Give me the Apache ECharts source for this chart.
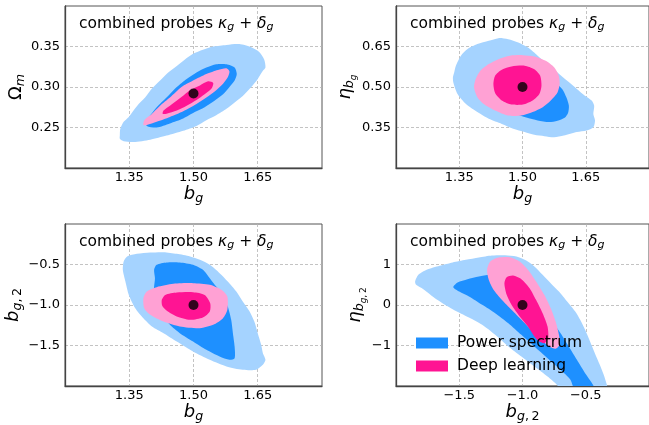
<!DOCTYPE html>
<html><head><meta charset="utf-8">
<script src="https://cdn.jsdelivr.net/npm/echarts@6/dist/echarts.min.js"></script>
<style>html,body{margin:0;padding:0;background:#fff}#c{width:649px;height:425px}</style>
</head><body><div id="c"></div>
<script>
// ---------------- data ----------------
const BG_TICKS = [1.35, 1.50, 1.65];
const OMEGA_TICKS = [0.25, 0.30, 0.35];
const ETA_BG_TICKS = [0.35, 0.50, 0.65];
const BG2_TICKS = [-1.5, -1.0, -0.5];
const ETA_BG2_TICKS = [-1, 0, 1];
const LEGEND_NAMES = ['Power spectrum', 'Deep learning'];
const TITLE_TEXT = 'combined probes {i|κ}{t|g} + {i|δ}{t|g}';

// panel 1: b_g vs Omega_m
const P1_FID = [1.5, 0.292];
const P1_PS_OUT = [[1.328,0.240],[1.329,0.248],[1.337,0.257],[1.349,0.263],[1.360,0.271],[1.372,0.279],[1.387,0.287],[1.403,0.298],[1.422,0.308],[1.441,0.318],[1.461,0.326],[1.480,0.334],[1.499,0.341],[1.522,0.346],[1.546,0.350],[1.577,0.352],[1.607,0.353],[1.635,0.349],[1.654,0.343],[1.665,0.334],[1.668,0.324],[1.662,0.320],[1.650,0.310],[1.635,0.300],[1.615,0.289],[1.596,0.281],[1.577,0.273],[1.553,0.265],[1.530,0.259],[1.507,0.252],[1.476,0.246],[1.437,0.240],[1.399,0.235],[1.360,0.232],[1.337,0.233],[1.328,0.236]];
const P1_PS_IN = [[1.391,0.252],[1.387,0.257],[1.399,0.265],[1.414,0.275],[1.437,0.287],[1.461,0.300],[1.484,0.310],[1.507,0.318],[1.530,0.324],[1.553,0.328],[1.577,0.328],[1.596,0.324],[1.601,0.316],[1.596,0.308],[1.584,0.300],[1.569,0.291],[1.549,0.283],[1.526,0.275],[1.503,0.269],[1.476,0.261],[1.445,0.255],[1.414,0.250]];
const P1_DL_OUT = [[1.383,0.253],[1.385,0.259],[1.399,0.265],[1.422,0.277],[1.445,0.287],[1.472,0.300],[1.499,0.308],[1.530,0.316],[1.557,0.321],[1.577,0.323],[1.584,0.319],[1.580,0.312],[1.569,0.304],[1.553,0.296],[1.530,0.287],[1.507,0.279],[1.476,0.270],[1.445,0.263],[1.414,0.257],[1.391,0.253]];
const P1_DL_IN = [[1.428,0.267],[1.430,0.271],[1.445,0.277],[1.468,0.286],[1.492,0.296],[1.515,0.302],[1.534,0.307],[1.546,0.305],[1.542,0.298],[1.526,0.291],[1.507,0.284],[1.484,0.277],[1.461,0.271],[1.437,0.267]];

// panel 2: b_g vs eta_bg
const P2_FID = [1.5, 0.5];
const P2_PS_OUT = [[1.342,0.579],[1.354,0.616],[1.369,0.640],[1.393,0.659],[1.420,0.671],[1.443,0.681],[1.466,0.677],[1.490,0.665],[1.513,0.646],[1.536,0.616],[1.559,0.585],[1.583,0.554],[1.606,0.523],[1.629,0.493],[1.648,0.468],[1.664,0.450],[1.670,0.431],[1.668,0.400],[1.672,0.376],[1.668,0.351],[1.652,0.339],[1.629,0.333],[1.598,0.320],[1.575,0.314],[1.552,0.318],[1.528,0.323],[1.505,0.333],[1.478,0.345],[1.451,0.363],[1.420,0.382],[1.393,0.407],[1.366,0.437],[1.346,0.474],[1.336,0.517],[1.335,0.536],[1.338,0.554]];
const P2_PS_IN = [[1.459,0.416],[1.482,0.468],[1.528,0.505],[1.575,0.517],[1.594,0.493],[1.604,0.462],[1.610,0.431],[1.608,0.404],[1.600,0.386],[1.583,0.375],[1.563,0.370],[1.536,0.376],[1.509,0.387],[1.482,0.400]];
const P2_DL_OUT = [[1.385,0.499],[1.389,0.530],[1.400,0.560],[1.420,0.585],[1.443,0.603],[1.470,0.616],[1.501,0.618],[1.528,0.613],[1.555,0.597],[1.575,0.573],[1.586,0.542],[1.588,0.511],[1.583,0.480],[1.567,0.450],[1.548,0.425],[1.524,0.407],[1.497,0.394],[1.466,0.394],[1.435,0.413],[1.408,0.437],[1.393,0.462]];
const P2_DL_IN = [[1.431,0.511],[1.435,0.542],[1.451,0.564],[1.474,0.576],[1.505,0.579],[1.528,0.566],[1.542,0.542],[1.545,0.505],[1.540,0.474],[1.524,0.450],[1.501,0.435],[1.474,0.435],[1.451,0.450],[1.435,0.478]];

// panel 3: b_g vs b_g2
const P3_FID = [1.5, -1.0];
const P3_PS_OUT = [[1.337,-0.463],[1.345,-0.401],[1.368,-0.368],[1.399,-0.352],[1.430,-0.348],[1.461,-0.368],[1.492,-0.401],[1.515,-0.442],[1.538,-0.504],[1.561,-0.607],[1.580,-0.710],[1.600,-0.833],[1.615,-0.957],[1.631,-1.080],[1.642,-1.204],[1.650,-1.348],[1.658,-1.492],[1.662,-1.595],[1.668,-1.677],[1.662,-1.739],[1.646,-1.800],[1.615,-1.800],[1.577,-1.759],[1.538,-1.677],[1.499,-1.574],[1.461,-1.451],[1.430,-1.348],[1.403,-1.265],[1.383,-1.163],[1.364,-1.039],[1.349,-0.875],[1.341,-0.710],[1.335,-0.566]];
const P3_PS_IN = [[1.408,-0.566],[1.414,-0.504],[1.437,-0.475],[1.468,-0.475],[1.499,-0.504],[1.522,-0.566],[1.538,-0.669],[1.553,-0.772],[1.569,-0.875],[1.580,-1.019],[1.588,-1.183],[1.592,-1.348],[1.596,-1.512],[1.596,-1.656],[1.584,-1.677],[1.561,-1.636],[1.530,-1.554],[1.499,-1.451],[1.468,-1.348],[1.445,-1.245],[1.430,-1.142],[1.414,-1.039],[1.406,-0.916],[1.408,-0.772],[1.410,-0.669]];
const P3_DL_OUT = [[1.383,-0.916],[1.391,-0.833],[1.414,-0.780],[1.453,-0.739],[1.499,-0.730],[1.538,-0.751],[1.565,-0.813],[1.579,-0.895],[1.579,-1.060],[1.569,-1.163],[1.546,-1.245],[1.515,-1.286],[1.468,-1.265],[1.430,-1.204],[1.399,-1.121],[1.385,-1.039]];
const P3_DL_IN = [[1.426,-0.936],[1.434,-0.875],[1.461,-0.846],[1.499,-0.842],[1.526,-0.875],[1.539,-0.977],[1.538,-1.080],[1.522,-1.154],[1.492,-1.183],[1.461,-1.142],[1.437,-1.068],[1.427,-1.010]];

// panel 4: b_g2 vs eta_bg2
const P4_FID = [-1.0, 0.0];
const P4_PS_OUT = [[-1.849,0.580],[-1.823,0.745],[-1.758,0.868],[-1.655,0.967],[-1.552,1.049],[-1.448,1.115],[-1.345,1.173],[-1.242,1.222],[-1.138,1.230],[-1.048,1.198],[-0.970,1.099],[-0.906,0.951],[-0.841,0.745],[-0.777,0.539],[-0.712,0.333],[-0.647,0.087],[-0.583,-0.160],[-0.544,-0.366],[-0.505,-0.613],[-0.466,-0.901],[-0.428,-1.189],[-0.389,-1.477],[-0.358,-1.724],[-0.332,-1.979],[-0.322,-2.1],[-0.712,-2.1],[-0.725,-1.979],[-0.802,-1.765],[-0.906,-1.518],[-1.009,-1.272],[-1.112,-1.025],[-1.216,-0.737],[-1.319,-0.490],[-1.423,-0.309],[-1.552,-0.103],[-1.681,0.144],[-1.784,0.391],[-1.841,0.498]];
const P4_PS_IN = [[-1.547,0.440],[-1.513,0.556],[-1.435,0.638],[-1.345,0.704],[-1.255,0.745],[-1.138,0.663],[-0.906,0.128],[-0.777,-0.366],[-0.699,-0.695],[-0.634,-1.025],[-0.570,-1.354],[-0.505,-1.683],[-0.454,-1.913],[-0.428,-2.1],[-0.583,-2.1],[-0.621,-1.848],[-0.699,-1.601],[-0.802,-1.313],[-0.906,-1.025],[-1.009,-0.737],[-1.112,-0.449],[-1.216,-0.202],[-1.319,0.004],[-1.423,0.210],[-1.500,0.333]];
const P4_DL_OUT = [[-1.280,0.868],[-1.255,1.074],[-1.190,1.173],[-1.100,1.181],[-1.022,1.074],[-0.957,0.868],[-0.893,0.580],[-0.828,0.251],[-0.777,-0.078],[-0.738,-0.407],[-0.712,-0.737],[-0.707,-0.983],[-0.738,-1.082],[-0.789,-1.025],[-0.854,-0.860],[-0.932,-0.613],[-1.009,-0.366],[-1.087,-0.119],[-1.164,0.128],[-1.229,0.375],[-1.267,0.621]];
const P4_DL_IN = [[-1.143,0.539],[-1.125,0.687],[-1.074,0.728],[-1.009,0.638],[-0.944,0.416],[-0.893,0.128],[-0.841,-0.202],[-0.802,-0.531],[-0.797,-0.819],[-0.828,-0.942],[-0.867,-0.901],[-0.906,-0.778],[-0.957,-0.531],[-1.022,-0.284],[-1.087,0.004],[-1.125,0.251]];

// ---------------- styling ----------------
const FONT = 'DejaVu Sans';
const C_PS_OUT = '#a5d3ff', C_PS_IN = '#1e90ff';
const C_DL_OUT = '#ffa1d4', C_DL_IN = '#ff1493';

const richName = {
  n: {fontSize: 18, fontFamily: FONT, fontStyle: 'italic', color: '#000'},
  u: {fontSize: 18, fontFamily: FONT, color: '#000'},
  s: {fontSize: 12.6, fontFamily: FONT, fontStyle: 'italic', color: '#000', padding: [9, 0, 0, 0]},
  su: {fontSize: 12.6, fontFamily: FONT, color: '#000', padding: [9, 0, 0, 0]},
  ss: {fontSize: 9, fontFamily: FONT, fontStyle: 'italic', color: '#000', padding: [16, 0, 0, 0]},
  ssu: {fontSize: 9, fontFamily: FONT, color: '#000', padding: [16, 0, 0, 0]}
};
const N_BG = '{n|b}{s|g}';
const N_OM = '{u|Ω}{s|m}';
const N_ETA_BG = '{n|η}{s|b}{ss|g}';
const N_BG2 = '{n|b}{s|g}{su|,\u20092}';
const N_ETA_BG2 = '{n|η}{s|b}{ss|g}{ssu|,\u20092}';

function fmt(dec) {
  return v => (v < 0 ? '\u2212' : '') + Math.abs(v).toFixed(dec);
}

const panels = [
  {left: 65, top: 6, x: [1.2, 1.8], y: [0.2, 0.4], xt: BG_TICKS, yt: OMEGA_TICKS, xd: 2, yd: 2, xn: N_BG, yn: N_OM, yGap: 37,
   fid: P1_FID, ps: [P1_PS_OUT, P1_PS_IN], dl: [P1_DL_OUT, P1_DL_IN]},
  {left: 396, top: 6, x: [1.2, 1.8], y: [0.2, 0.8], xt: BG_TICKS, yt: ETA_BG_TICKS, xd: 2, yd: 2, xn: N_BG, yn: N_ETA_BG, yGap: 33,
   fid: P2_FID, ps: [P2_PS_OUT, P2_PS_IN], dl: [P2_DL_OUT, P2_DL_IN]},
  {left: 65, top: 224, x: [1.2, 1.8], y: [-2, 0], xt: BG_TICKS, yt: BG2_TICKS, xd: 2, yd: 1, xn: N_BG, yn: N_BG2, yGap: 39,
   fid: P3_FID, ps: [P3_PS_OUT, P3_PS_IN], dl: [P3_DL_OUT, P3_DL_IN]},
  {left: 396, top: 224, x: [-2, 0], y: [-2, 2], xt: BG2_TICKS, yt: ETA_BG2_TICKS, xd: 1, yd: 0, xn: N_BG2, yn: N_ETA_BG2, yGap: 22,
   fid: P4_FID, ps: [P4_PS_OUT, P4_PS_IN], dl: [P4_DL_OUT, P4_DL_IN]}
];

const grids = [], xAxes = [], yAxes = [], series = [], titles = [];
const split = {show: true, lineStyle: {color: '#b4b4b4', type: [3, 2], width: 0.8}};
const axLine = {show: true, onZero: false, lineStyle: {color: '#444', width: 1.3}};

function contourSeries(name, color, fills, polys, gi) {
  return {
    type: 'custom', name: name, xAxisIndex: gi, yAxisIndex: gi, clip: true, silent: true,
    itemStyle: {color: color},
    data: polys.map(p => p[0]),
    renderItem: function (params, api) {
      const poly = polys[params.dataIndex];
      return {
        type: 'polygon',
        shape: {points: poly.map(p => api.coord(p)), smooth: 0.25},
        style: {fill: fills[params.dataIndex], stroke: null}
      };
    }
  };
}

panels.forEach((p, i) => {
  grids.push({left: p.left, top: p.top, width: 257, height: 162, show: true,
    borderColor: '#555', borderWidth: 1, backgroundColor: '#fff'});
  xAxes.push({type: 'value', gridIndex: i, min: p.x[0], max: p.x[1],
    axisLine: axLine, axisTick: {show: false, customValues: p.xt},
    axisLabel: {customValues: p.xt, formatter: fmt(p.xd), fontSize: 13, color: '#000', fontFamily: FONT, margin: 3},
    splitLine: split,
    name: p.xn, nameLocation: 'middle', nameGap: 13,
    nameTextStyle: {rich: richName}});
  yAxes.push({type: 'value', gridIndex: i, min: p.y[0], max: p.y[1],
    axisLine: axLine, axisTick: {show: false, customValues: p.yt},
    axisLabel: {customValues: p.yt, formatter: fmt(p.yd), fontSize: 13, color: '#000', fontFamily: FONT, margin: 5},
    splitLine: split,
    name: p.yn, nameLocation: 'middle', nameGap: p.yGap,
    nameTextStyle: {rich: richName}});
  series.push(contourSeries(LEGEND_NAMES[0], C_PS_IN, [C_PS_OUT, C_PS_IN], p.ps, i));
  series.push(contourSeries(LEGEND_NAMES[1], C_DL_IN, [C_DL_OUT, C_DL_IN], p.dl, i));
  series.push({type: 'scatter', xAxisIndex: i, yAxisIndex: i, symbolSize: 10, silent: true,
    itemStyle: {color: '#000'}, data: [p.fid], z: 5});
  titles.push({text: TITLE_TEXT, left: p.left + 14, top: p.top + 8, padding: 0,
    textStyle: {fontSize: 15.5, fontWeight: 'normal', fontFamily: FONT, color: '#000',
      rich: {
        i: {fontSize: 15.5, fontFamily: FONT, fontStyle: 'italic', color: '#000'},
        t: {fontSize: 11, fontFamily: FONT, fontStyle: 'italic', color: '#000', padding: [8, 0, 0, 0]}
      }}});
});

const chart = echarts.init(document.getElementById('c'), null, {renderer: 'canvas'});
chart.setOption({
  animation: false,
  backgroundColor: '#fff',
  textStyle: {fontFamily: FONT},
  title: titles,
  grid: grids,
  xAxis: xAxes,
  yAxis: yAxes,
  legend: {
    orient: 'vertical', left: 411, top: 330, itemWidth: 32, itemHeight: 11, itemGap: 7,
    selectedMode: false,
    data: [
      {name: LEGEND_NAMES[0], icon: 'rect', itemStyle: {color: C_PS_IN}},
      {name: LEGEND_NAMES[1], icon: 'rect', itemStyle: {color: C_DL_IN}}
    ],
    textStyle: {fontSize: 15.5, fontFamily: FONT, color: '#000', padding: [0, 0, 0, 4]}
  },
  series: series
});
</script></body></html>
